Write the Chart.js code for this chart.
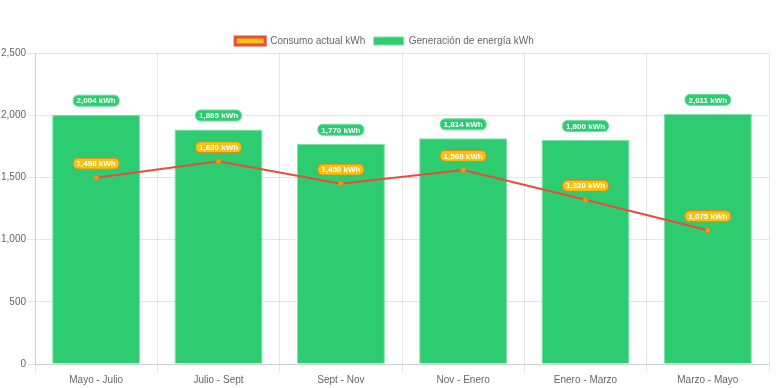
<!DOCTYPE html>
<html>
<head>
<meta charset="utf-8">
<script src="https://cdn.jsdelivr.net/npm/chart.js@4"></script>
<style>
  html, body { margin: 0; padding: 0; background: #fff; }
  #wrap { width: 776px; height: 388px; }
</style>
</head>
<body>
<div id="wrap"><canvas id="energyChart"></canvas></div>
<script>
const periods = ['Mayo - Julio', 'Julio - Sept', 'Sept - Nov', 'Nov - Enero', 'Enero - Marzo', 'Marzo - Mayo'];
const consumo = [1498, 1630, 1450, 1560, 1320, 1075];
const generacion = [2004, 1885, 1770, 1814, 1800, 2011];
const yTicks = [0, 500, 1000, 1500, 2000, 2500];

Chart.defaults.font.size = 10;
Chart.defaults.color = '#666';

// pill-shaped value labels above bars and points
const pillLabels = {
  id: 'pillLabels',
  afterLayout(chart) {
    // nudge the legend a little lower, closer to the plot
    chart.legend.top += 3;
    chart.legend.bottom += 3;
  },
  afterDatasetsDraw(chart) {
    const ctx = chart.ctx;
    const draw = (dsIndex, fill, stroke) => {
      const meta = chart.getDatasetMeta(dsIndex);
      const values = chart.data.datasets[dsIndex].data;
      meta.data.forEach((el, i) => {
        const text = values[i].toLocaleString('en-US') + ' kWh';
        ctx.save();
        ctx.font = 'bold 8px "Helvetica Neue", Helvetica, Arial, sans-serif';
        const w = ctx.measureText(text).width + 7;
        const h = 11;
        const cx = el.x;
        const cy = el.y - 14;
        ctx.beginPath();
        ctx.roundRect(cx - w / 2, cy - h / 2, w, h, 5);
        ctx.fillStyle = fill;
        ctx.fill();
        ctx.lineWidth = 1;
        ctx.strokeStyle = stroke;
        ctx.stroke();
        ctx.fillStyle = '#fff';
        ctx.textAlign = 'center';
        ctx.textBaseline = 'middle';
        ctx.fillText(text, cx, cy + 0.5);
        ctx.restore();
      });
    };
    draw(1, '#2ecc71', '#6fdc9c');
    draw(0, '#f1c40f', '#e67e22');
  }
};

new Chart(document.getElementById('energyChart'), {
  data: {
    labels: periods,
    datasets: [{
      type: 'line',
      label: 'Consumo actual kWh',
      data: consumo,
      borderColor: '#e74c3c',
      backgroundColor: '#f1c40f',
      borderWidth: 2,
      tension: 0,
      pointRadius: 2.5,
      pointBackgroundColor: '#f39c12',
      pointBorderColor: '#e67e22',
      pointBorderWidth: 1
    }, {
      type: 'bar',
      label: 'Generación de energía kWh',
      data: generacion,
      backgroundColor: '#2ecc71',
      borderColor: '#7de0a6',
      borderWidth: 1
    }]
  },
  options: {
    responsive: true,
    maintainAspectRatio: false,
    animation: false,
    layout: { padding: { top: 30, right: 7, bottom: 0 } },
    plugins: {
      legend: {
        labels: {
          boxWidth: 30,
          boxHeight: 8,
          padding: 3,
          generateLabels(chart) {
            const items = Chart.defaults.plugins.legend.labels.generateLabels(chart);
            items[0].lineWidth = 3;
            items[0].text += '  ';
            return items;
          }
        }
      },
      tooltip: { enabled: false }
    },
    scales: {
      x: {
        ticks: { padding: 2 }
      },
      y: {
        min: yTicks[0],
        max: yTicks[yTicks.length - 1],
        ticks: { padding: 1 },
        afterBuildTicks: axis => { axis.ticks = yTicks.map(v => ({ value: v })); }
      }
    }
  },
  plugins: [pillLabels]
});
</script>
</body>
</html>
